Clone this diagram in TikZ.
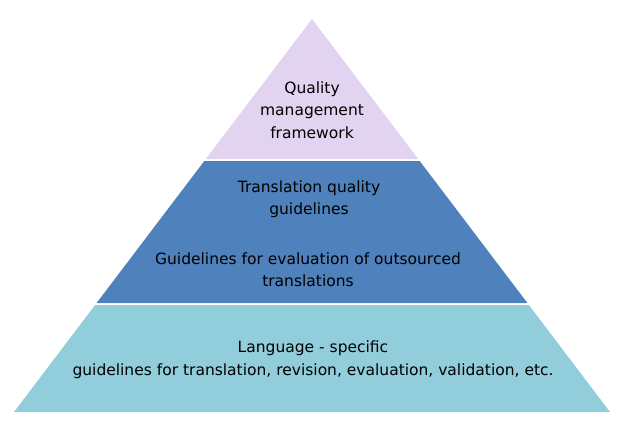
\documentclass[tikz,border=0pt]{standalone}
\usepackage{fontspec}
\setmainfont{DejaVu Sans}
\definecolor{tiertop}{RGB}{226,211,240}
\definecolor{tiermid}{RGB}{79,129,189}
\definecolor{tierbase}{RGB}{146,205,220}
\tikzset{
	tier/.style={draw=none},
	tiertext/.style={align=center,text=black,font=\fontsize{15.5}{22.5}\selectfont,inner sep=0pt}
}

\begin{document}
\begin{tikzpicture}[x=1pt,y=-1pt]

\useasboundingbox (0,0) rectangle (618,425);

% tiers of the pyramid
\begin{scope}
	\fill [tier,tiertop] (312,19) -- (418.2,159) -- (205.8,159) -- cycle;
	\fill [tier,tiermid] (204.3,161) -- (419.7,161) -- (527.4,303) -- (96.6,303) -- cycle;
	\fill [tier,tierbase] (95.1,305) -- (528.9,305) -- (610,412) -- (14,412) -- cycle;
\end{scope}

% labels
\node [tiertext] (qmf) at (312,110) {Quality\\management\\framework};
\node [tiertext] (tqg) at (309,199) {Translation quality\\guidelines};
\node [tiertext] (geo) at (308,269.5) {Guidelines for evaluation of outsourced\\translations};
\node [tiertext] (lsg) at (313,359.5) {Language - specific\\guidelines for translation, revision, evaluation, validation, etc.};

\end{tikzpicture}
\end{document}
